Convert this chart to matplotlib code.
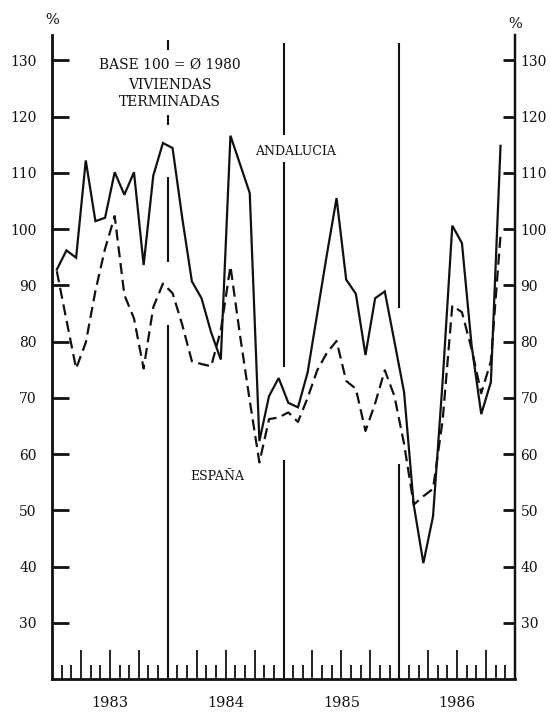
import numpy as np
import matplotlib
matplotlib.use("Agg")
from matplotlib import pyplot as plt
from matplotlib.ticker import FixedLocator, NullFormatter


# DATA (monthly index, base 100 = average 1980), Jan 1983 .. Nov 1986
years = ["1983", "1984", "1985", "1986"]
andalucia = [92.8, 96.2, 94.9, 112.2, 101.4, 102.0, 110.1, 106.1, 110.1, 93.6, 109.5, 115.3,
             114.4, 102.0, 90.7, 87.7, 81.6, 76.8, 116.6, 111.5, 106.4, 62.3, 70.3, 73.5,
             69.1, 68.3, 74.5, 85.0, 95.5, 105.5, 91.0, 88.5, 77.6, 87.7, 88.9, 80.0,
             71.0, 51.0, 40.6, 48.9, 73.0, 100.6, 97.5, 79.3, 67.1, 72.8, 114.8]
espana = [92.5, 83.8, 75.2, 79.8, 89.0, 96.5, 102.3, 88.3, 84.1, 75.2, 86.1, 90.3,
          88.6, 83.0, 76.5, 76.0, 75.6, 82.0, 93.4, 81.0, 69.5, 58.5, 66.2, 66.5,
          67.4, 65.7, 70.0, 74.9, 78.0, 80.1, 73.0, 71.6, 64.1, 69.0, 74.9, 70.3,
          61.8, 51.0, 52.5, 53.8, 66.0, 86.4, 85.2, 78.7, 70.8, 76.5, 98.9]
yticks = [30, 40, 50, 60, 70, 80, 90, 100, 110, 120, 130]

# year separators drawn in pieces (gaps where text / curves cross, as in the print)
separadores = {12: [(131.8, 133.6), (118.5, 120.3), (94.1, 109.3), (20, 82.9)],
               24: [(116.7, 133.1), (75.5, 111.9), (20, 58.9)],
               36: [(86.0, 133.1), (20, 58.2)]}


# PLOT
ink = "#111111"
plt.rcParams["font.family"] = "DejaVu Serif"

fig = plt.figure(figsize=(5.51, 7.14), dpi=100)
ax = fig.add_axes([52 / 551, 1 - 679 / 714, 463 / 551, 644 / 714])

x = np.arange(len(andalucia)) + 0.5
ax.plot(x, andalucia, color=ink, linewidth=1.6, solid_joinstyle="miter")
ax.plot(x, espana, color=ink, linewidth=1.6, dashes=(5.0, 2.6))

for xs, segs in separadores.items():
    for y0, y1 in segs:
        ax.plot([xs, xs], [y0, y1], color=ink, linewidth=1.5, solid_capstyle="butt")

ax.set_xlim(0, 48)
ax.set_ylim(20, 134.5)

# spines
ax.spines["top"].set_visible(False)
for s in ["left", "right", "bottom"]:
    ax.spines[s].set_color(ink)
ax.spines["left"].set_linewidth(2.0)
ax.spines["right"].set_linewidth(1.6)
ax.spines["bottom"].set_linewidth(2.0)

# left y ticks
ax.set_yticks(yticks)
ax.tick_params(axis="y", which="major", direction="in", length=12, width=2.0,
               labelsize=10, colors=ink, pad=11)

# right y ticks (own axis so the label gap can differ)
ax2 = ax.twinx()
ax2.set_ylim(ax.get_ylim())
ax2.set_yticks(yticks)
for s in ["top", "left", "bottom"]:
    ax2.spines[s].set_visible(False)
ax2.spines["right"].set_linewidth(1.6)
ax2.spines["right"].set_color(ink)
ax2.tick_params(axis="y", which="major", direction="in", length=9, width=2.0,
                labelsize=10, colors=ink, pad=4)

# x ticks: months short, quarters tall, year name at mid year
quarters = [k for k in range(1, 48) if k % 3 == 0 and k % 12 != 0]
months = [k for k in range(1, 48) if k % 3 != 0]
ax.xaxis.set_major_locator(FixedLocator(quarters))
ax.xaxis.set_minor_locator(FixedLocator(months))
ax.set_xticklabels([years[k // 12] if k % 12 == 6 else "" for k in quarters])
ax.xaxis.set_minor_formatter(NullFormatter())
ax.tick_params(axis="x", which="major", direction="in", length=21, width=1.3,
               labelsize=10.5, colors=ink, pad=12)
ax.tick_params(axis="x", which="minor", direction="in", length=10, width=1.3, colors=ink)

# annotations
ax.text(12.2, 129.2, "BASE 100 = Ø 1980", ha="center", va="center", fontsize=10, color=ink)
ax.text(12.2, 125.6, "VIVIENDAS", ha="center", va="center", fontsize=10, color=ink)
ax.text(12.2, 122.6, "TERMINADAS", ha="center", va="center", fontsize=10, color=ink)
ax.text(25.2, 113.7, "ANDALUCIA", ha="center", va="center", fontsize=9, color=ink)
ax.text(17.1, 56.0, "ESPAÑA", ha="center", va="center", fontsize=9, color=ink)

fig.text(52 / 551, 1 - 20 / 714, "%", ha="center", va="center", fontsize=10.5, color=ink)
fig.text(515 / 551, 1 - 24 / 714, "%", ha="center", va="center", fontsize=10.5, color=ink)

fig.savefig("out.png", dpi=100, facecolor="white")
